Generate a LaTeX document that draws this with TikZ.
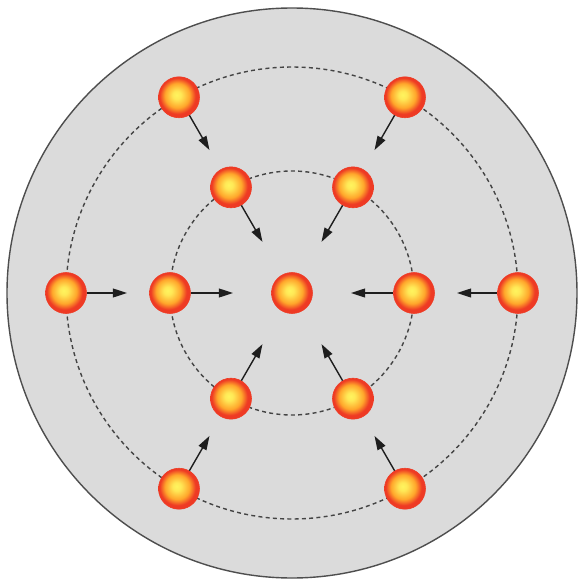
\documentclass[tikz,border=0pt]{standalone}
\usetikzlibrary{arrows.meta}
\definecolor{plate}{HTML}{DBDBDB}
\definecolor{rim}{HTML}{4E4E4E}
\definecolor{orbit}{HTML}{444444}
\definecolor{core}{HTML}{FFF45E}
\definecolor{glow}{HTML}{FFA62B}
\definecolor{shell}{HTML}{EE3A24}
\definecolor{ink}{HTML}{1E1E1E}
\pgfdeclareradialshading{fireball}{\pgfpoint{-3bp}{3bp}}{color(0bp)=(core); color(5bp)=(core!85!glow); color(15bp)=(glow); color(22bp)=(shell); color(27bp)=(shell); color(50bp)=(shell)}
\tikzset{
  >={Triangle[length=12pt,width=7.5pt]},
  platedisc/.style={draw=rim,fill=plate,line width=1.2pt},
  orbitline/.style={draw=orbit,line width=1.2pt,dash pattern=on 3.4pt off 2.8pt},
  ball/.style={circle,minimum size=1.23cm,inner sep=0pt,shading=fireball,draw=shell,line width=0.5pt},
  push/.style={->,draw=ink,line width=1.2pt},
}
\begin{document}
\begin{tikzpicture}[x=0.03cm,y=0.03cm]
\useasboundingbox (-292,-288) rectangle (287,293);

% plate and orbits
\draw[platedisc] (0,0) coordinate (mid) circle (285);
\draw[orbitline] (mid) circle (122);
\draw[orbitline] (mid) circle (226);

\node[ball] (hub) at (mid) {};

% two rings of six, each pushing inwards
\foreach \a/\n in {0/1,60/2,120/3,180/4,240/5,300/6}{
  \node[ball] (inner\n) at (\a:122) {};
  \node[ball] (outer\n) at (\a:226) {};
  \coordinate (innertip\n) at (\a:59);
  \coordinate (outertip\n) at (\a:165);
  \draw[push] (inner\n) -- (innertip\n);
  \draw[push] (outer\n) -- (outertip\n);
}

\end{tikzpicture}
\end{document}
